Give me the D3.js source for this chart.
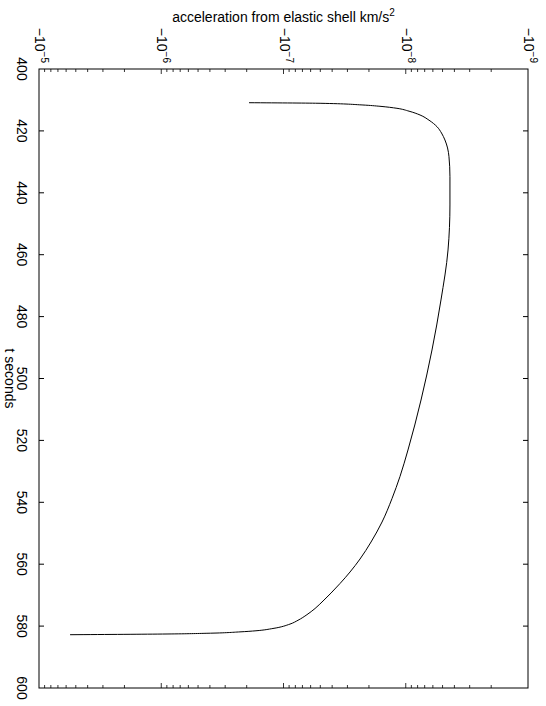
<!DOCTYPE html>
<html><head><meta charset="utf-8">
<script src="https://cdn.jsdelivr.net/npm/d3@7"></script>
<style>body{margin:0;background:#fff}text{font-family:"Liberation Sans",Arial,Helvetica,sans-serif;fill:#000}</style>
</head><body><svg id="c" width="546" height="706"></svg>
<script>
// time (s)
const tValues = [410.89, 411.08, 411.63, 412.05, 412.70, 413.63, 414.86, 416.54, 418.64, 420.68, 422.94, 425.52, 428.34, 434.80, 443.94, 458.48, 474.63, 490.79, 506.95, 523.10, 531.63, 538.74, 546.37, 552.83, 558.32, 562.52, 566.24, 569.30, 571.89, 574.31, 576.31, 578.12, 579.35, 580.77, 581.51, 581.87, 582.32, 582.55, 582.78];
// acceleration from elastic shell (km/s^2)
const accel = [-1.914e-7, -5.02e-8, -2.24e-8, -1.626e-8, -1.180e-8, -9.40e-9, -7.64e-9, -6.45e-9, -5.55e-9, -5.10e-9, -4.78e-9, -4.55e-9, -4.43e-9, -4.35e-9, -4.35e-9, -4.51e-9, -5.15e-9, -6.10e-9, -7.50e-9, -9.59e-9, -1.114e-8, -1.294e-8, -1.563e-8, -1.923e-8, -2.366e-8, -2.856e-8, -3.45e-8, -4.08e-8, -4.75e-8, -5.52e-8, -6.43e-8, -7.61e-8, -8.85e-8, -1.219e-7, -1.679e-7, -2.27e-7, -4.23e-7, -8.97e-7, -5.57e-6];
const tTicks = [400, 420, 440, 460, 480, 500, 520, 540, 560, 580, 600];
const accelExponents = [-5, -6, -7, -8, -9];
const accelDomain = [-1e-5, -1e-9];
const tDomain = [400, 600];
const title = "acceleration from elastic shell km/s";
const titleSup = "2";
const tLabel = "t seconds";

const L = 39, R = 528, T = 69, B = 688;
const FS = 14, FSS = 10;
const svg = d3.select("#c");
const y = d3.scaleLinear().domain(tDomain).range([T, B]);
const x = d3.scaleLog().domain(accelDomain.map(Math.abs)).range([L, R]);

// frame
svg.append("rect").attr("x", L).attr("y", T).attr("width", R - L).attr("height", B - T)
  .attr("fill", "none").attr("stroke", "#000").attr("stroke-width", 1);

// t ticks (left & right, inward)
tTicks.forEach(t => {
  const yy = y(t);
  if (t !== 400 && t !== 600) {
    svg.append("line").attr("x1", L).attr("x2", L + 5).attr("y1", yy).attr("y2", yy).attr("stroke", "#000");
    svg.append("line").attr("x1", R).attr("x2", R - 5).attr("y1", yy).attr("y2", yy).attr("stroke", "#000");
  }
  svg.append("text").attr("transform", `translate(22,${yy}) rotate(90)`)
    .attr("text-anchor", "middle").attr("dominant-baseline", "central")
    .attr("font-size", FS).text(t);
});

// log ticks top & bottom
x.ticks().forEach(v => {
  const xx = x(v);
  const ex = Math.log10(v);
  const major = Math.abs(ex - Math.round(ex)) < 1e-9;
  const len = major ? 5 : 3;
  if (xx <= L + 0.5 || xx >= R - 0.5) return;
  svg.append("line").attr("x1", xx).attr("x2", xx).attr("y1", T).attr("y2", T + len).attr("stroke", "#000").attr("stroke-width", 0.8);
  svg.append("line").attr("x1", xx).attr("x2", xx).attr("y1", B).attr("y2", B - len).attr("stroke", "#000").attr("stroke-width", 0.8);
});

// decade labels
accelExponents.forEach(e => {
  const xx = x(Math.pow(10, e));
  const tx = svg.append("text").attr("transform", `translate(${xx + 1},63) rotate(90)`)
    .attr("text-anchor", "end").attr("dominant-baseline", "central").attr("font-size", FS);
  tx.append("tspan").text("\u221210");
  tx.append("tspan").attr("dy", -5).attr("font-size", FSS).text("\u2212" + Math.abs(e));
});

// title
const tt = svg.append("text").attr("x", (L + R) / 2).attr("y", 22).attr("text-anchor", "middle").attr("font-size", FS);
tt.append("tspan").text(title);
tt.append("tspan").attr("dy", -6).attr("font-size", FSS).text(titleSup);

// t label
svg.append("text").attr("transform", `translate(10,${(T + B) / 2}) rotate(90)`)
  .attr("text-anchor", "middle").attr("dominant-baseline", "central").attr("font-size", FS).text(tLabel);

// curve
const data = tValues.map((t, i) => ({t, a: accel[i]}));
const line = d3.line().x(d => x(Math.abs(d.a))).y(d => y(d.t)).curve(d3.curveMonotoneY);
svg.append("path").datum(data).attr("d", line).attr("fill", "none").attr("stroke", "#000").attr("stroke-width", 1);
</script></body></html>
